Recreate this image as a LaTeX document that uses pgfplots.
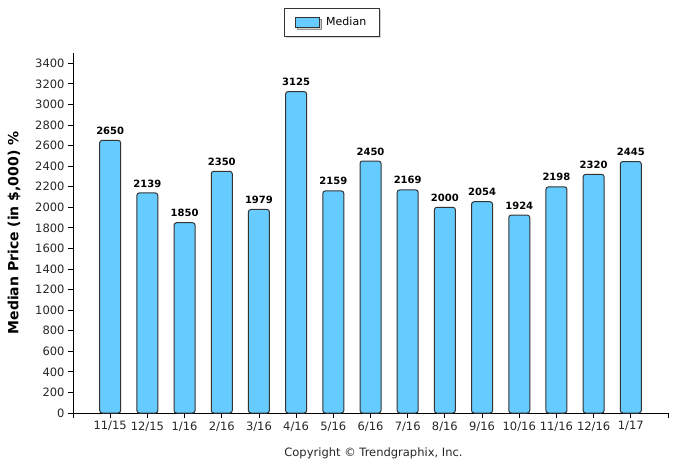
\documentclass[border=0pt]{standalone}
\usepackage{pgfplots}
\pgfplotsset{compat=1.18}
\usepackage{fontspec}
\setmainfont{DejaVu Sans}
\usetikzlibrary{shadows}
\definecolor{barblue}{RGB}{102,204,255}
\definecolor{bardraw}{RGB}{51,51,51}
\begin{document}
\begin{tikzpicture}
\path[use as bounding box] (-73pt,-53pt) rectangle (610pt,413pt);
\begin{axis}[
  scale only axis,
  width=595pt, height=360pt,
  xmin=-1, xmax=15,
  ymin=0, ymax=3500,
  axis x line*=bottom, axis y line*=left,
  axis line style={-, black, line width=0.8pt},
  tick align=outside,
  major tick length=5pt,
  tick style={black, line width=0.8pt},
  xtick={-1,...,15},
  xticklabels={,11/15,12/15,1/16,2/16,3/16,4/16,5/16,6/16,7/16,8/16,9/16,10/16,11/16,12/16,1/17,},
  ytick={0,200,...,3400},
  ticklabel style={font=\fontsize{11.5}{12}\selectfont, text=black!85},
  /pgf/number format/assume math mode=true,
  /pgf/number format/1000 sep={},
  ybar, bar width=21pt,
  nodes near coords,
  every node near coord/.append style={font=\fontsize{10}{12}\selectfont\bfseries, yshift=2pt},
  legend style={at={(rel axis cs:0.435,1.085)}, anchor=center, draw=bardraw, fill=white,
    font=\fontsize{11}{12}\selectfont, inner xsep=11pt, inner ysep=7pt,
    drop shadow={shadow xshift=2pt, shadow yshift=-2pt, fill=gray!70},
    legend cell align=left, column sep=4pt},
  clip=false,
]
\addplot[fill=barblue, draw=bardraw, line width=1pt, rounded corners=2.5pt,
  legend image code/.code={\draw[##1, line width=0.8pt, rounded corners=0pt] (0pt,-5pt) rectangle (24pt,5pt);}] coordinates {
(0,2650) (1,2139) (2,1850) (3,2350) (4,1979) (5,3125) (6,2159) (7,2450)
(8,2169) (9,2000) (10,2054) (11,1924) (12,2198) (13,2320) (14,2445)};
\addlegendentry{Median\hspace{14pt}}
\node[font=\fontsize{11.5}{12}\selectfont, text=black!85] at (rel axis cs:0.505,0) [yshift=-40pt] {Copyright \textcopyright{} Trendgraphix, Inc.};
\node[font=\fontsize{14}{16}\selectfont\bfseries, rotate=90] at ([xshift=-59pt]rel axis cs:0,0.5) {Median Price (in \$,000) \%};
\end{axis}
\end{tikzpicture}
\end{document}
